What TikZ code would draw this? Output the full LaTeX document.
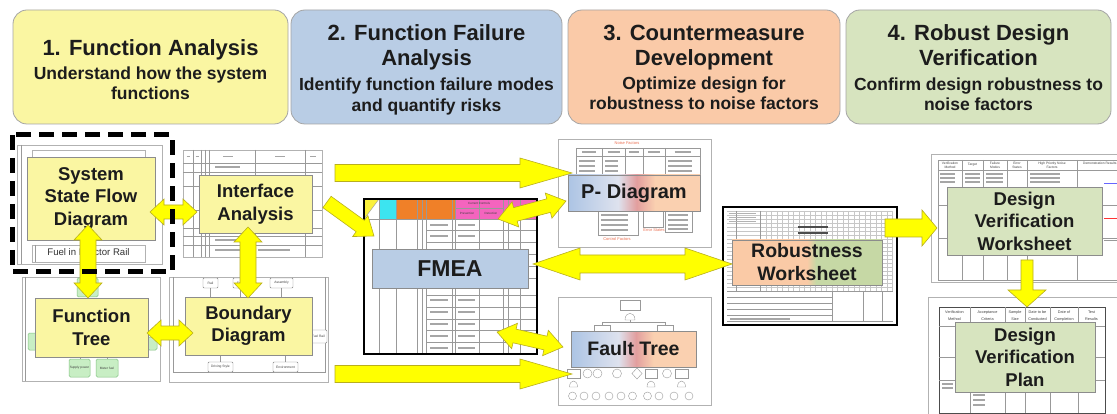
\documentclass[tikz,border=0pt]{standalone}
\usepackage{fontspec}
\setmainfont{Liberation Sans}
\usetikzlibrary{calc}
\definecolor{hyellow}{RGB}{250,246,162}
\definecolor{hblue}{RGB}{185,205,229}
\definecolor{hpeach}{RGB}{250,202,168}
\definecolor{hgreen}{RGB}{215,228,191}
\definecolor{hedge}{RGB}{165,165,165}
\definecolor{ink}{RGB}{28,28,28}
\definecolor{ayellow}{RGB}{255,255,0}
\definecolor{aedge}{RGB}{185,175,30}
\definecolor{pdblue}{RGB}{172,196,228}
\definecolor{pdlight}{RGB}{222,226,238}
\definecolor{pdpink}{RGB}{226,158,158}
\definecolor{pdpeach}{RGB}{250,208,176}
\definecolor{rwpeach}{RGB}{250,202,166}
\definecolor{rwgreen}{RGB}{198,216,165}
\definecolor{fmyel}{RGB}{250,240,60}
\definecolor{fmcyan}{RGB}{60,228,240}
\definecolor{fmorange}{RGB}{240,128,40}
\definecolor{fmpink}{RGB}{244,100,190}
\definecolor{gbfill}{RGB}{200,238,196}
\definecolor{gbedge}{RGB}{130,195,130}
\definecolor{nred}{RGB}{235,110,80}
\pgfdeclarehorizontalshading{pdshade}{100bp}{color(0bp)=(pdblue); color(25bp)=(pdblue); color(44bp)=(pdlight); color(51bp)=(pdpink); color(58bp)=(pdpeach); color(100bp)=(pdpeach)}
\pgfdeclarehorizontalshading{rwshade}{100bp}{color(0bp)=(rwpeach); color(50bp)=(rwpeach); color(53bp)=(rwgreen); color(100bp)=(rwgreen)}
% single block arrow: prefix, A, B, shaft half width, head half width, head length
\newcommand{\blkarrow}[6]{%
  \coordinate (#1c) at ($(#3)!#6pt!(#2)$);
  \filldraw[barrow] ($(#2)!#4pt!90:(#3)$) -- ($(#1c)!#4pt!90:(#3)$) -- ($(#1c)!#5pt!90:(#3)$) -- (#3)
    -- ($(#1c)!#5pt!-90:(#3)$) -- ($(#1c)!#4pt!-90:(#3)$) -- ($(#2)!#4pt!-90:(#3)$) -- cycle;}
% double block arrow
\newcommand{\dblarrow}[6]{%
  \coordinate (#1p) at ($(#2)!#6pt!(#3)$);
  \coordinate (#1q) at ($(#3)!#6pt!(#2)$);
  \filldraw[barrow] (#2) -- ($(#1p)!#5pt!90:(#3)$) -- ($(#1p)!#4pt!90:(#3)$) -- ($(#1q)!#4pt!90:(#3)$) -- ($(#1q)!#5pt!90:(#3)$) -- (#3)
    -- ($(#1q)!#5pt!-90:(#3)$) -- ($(#1q)!#4pt!-90:(#3)$) -- ($(#1p)!#4pt!-90:(#3)$) -- ($(#1p)!#5pt!-90:(#3)$) -- cycle;}
\begin{document}
\begin{tikzpicture}[x=1pt,y=-1pt,
  hbox/.style={draw=hedge, rounded corners=14pt, line width=0.8pt, inner sep=0pt},
  htitle/.style={font=\bfseries\fontsize{22}{25}\selectfont, text=ink, align=center, inner sep=0pt},
  hsub/.style={font=\bfseries\fontsize{17.5}{20.5}\selectfont, text=ink, align=center, inner sep=0pt},
  lbl/.style={draw=black!45, line width=0.6pt, inner sep=0pt, align=center, text=ink,
    font=\bfseries\fontsize{18.5}{22.5}\selectfont},
  thumb/.style={draw=black!30, fill=white, line width=0.8pt},
  grid/.style={draw=black!40, line width=0.4pt},
  lgrid/.style={draw=black!22, line width=0.4pt},
  strk/.style={draw=black!35, line width=1.1pt},
  tinyt/.style={font=\fontsize{3.6}{5}\selectfont, inner sep=0pt, text=black!75, align=center},
  sbox/.style={draw=black!50, fill=white, rounded corners=1pt, line width=0.4pt},
  gbox/.style={draw=gbedge, fill=gbfill, rounded corners=1.5pt, line width=0.5pt},
  barrow/.style={fill=ayellow, draw=aedge, line width=0.6pt, line join=miter}]
\useasboundingbox[fill=white] (0,0) rectangle (1117,414);

% ---------------- header boxes ----------------
\node[hbox, fill=hyellow, minimum width=275pt, minimum height=114pt] (hb1) at (150.5,67) {};
\node[hbox, fill=hblue, minimum width=271pt, minimum height=114pt] (hb2) at (426.5,67) {};
\node[hbox, fill=hpeach, minimum width=272pt, minimum height=114pt] (hb3) at (704,67) {};
\node[hbox, fill=hgreen, minimum width=265pt, minimum height=114pt] (hb4) at (978.5,67) {};
\node[htitle] (ht1) at (150.5,50.2) {1. Function Analysis};
\node[hsub] (hs1) at (150.5,83.2) {Understand how the system\\functions};
\node[htitle] (ht2) at (426.5,47.7) {2. Function Failure\\Analysis};
\node[hsub] (hs2) at (426.5,96.3) {Identify function failure modes\\and quantify risks};
\node[htitle] (ht3) at (704,47.7) {3. Countermeasure\\Development};
\node[hsub] (hs3) at (704,93.2) {Optimize design for\\robustness to noise factors};
\node[htitle] (ht4) at (978.5,45.4) {4. Robust Design\\Verification};
\node[hsub] (hs4) at (978.5,94) {Confirm design robustness to\\noise factors};

% ---------------- thumbnails ----------------
% system state flow
\draw[thumb] (17,145) rectangle (162,264);
\draw[grid] (21,145) -- (21,264);
\draw[thumb] (32,150) rectangle (145,163);
\draw[thumb] (32,245) rectangle (145,262);
\draw[grid] (35,245) -- (35,262);
\node[font=\fontsize{9.6}{11}\selectfont, text=black!80, inner sep=0pt] (fir) at (88.5,253.5) {Fuel in Injector Rail};

% interface analysis
\draw[thumb] (183,150) rectangle (322,257);
\foreach \x in {193,201,205,209,255,305} \draw[grid] (\x,150) -- (\x,257);
\foreach \y in {163,172,186,210,228,236,245} \draw[grid] (183,\y) -- (322,\y);
\foreach \x/\l in {188/3,197/3,228/10,280/10,313/6} \draw[strk] (\x-\l/2,156.5) -- (\x+\l/2,156.5);
\foreach \y in {167,240,250} \draw[strk] (215,\y) -- (240,\y);
\draw[strk] (258,250) -- (290,250);

% function tree
\draw[thumb] (22,277) rectangle (160,381);
\draw[grid] (25,277) -- (25,381);
\draw[gbox] (77,278) rectangle (98,297);
\draw[gbox] (28,333) rectangle (37,350);
\draw[gbox] (148,337) rectangle (157,350);
\draw[grid] (80,355) -- (80,359) (107,355) -- (107,359);
\draw[gbox] (69,359) rectangle (90,377);
\draw[gbox] (96,359) rectangle (118,377);
\node[tinyt, font=\fontsize{3.2}{4}\selectfont] (sp) at (79.5,368) {Supply power};
\node[tinyt, font=\fontsize{3.2}{4}\selectfont] (mf) at (107,368) {Meter fuel};

% boundary diagram
\draw[thumb] (169,277) rectangle (328,382);
\draw[grid] (173,277) -- (173,372) -- (325,372) -- (325,277);
\draw[grid] (210.5,288) -- (210.5,297) (240,288) -- (240,297) (281.5,288) -- (281.5,297);
\draw[grid] (220.5,355) -- (220.5,362) (285.5,355) -- (285.5,362);
\draw[sbox] (203,278) rectangle (218,288);
\draw[sbox] (233,278) rectangle (247,288);
\draw[sbox] (270,278) rectangle (293,288);
\draw[sbox] (300,330) rectangle (327,343);
\draw[sbox] (208,362) rectangle (233,372);
\draw[sbox] (273,362) rectangle (298,372);
\node[tinyt, font=\fontsize{3.3}{4}\selectfont] (b1) at (210.5,283) {Rail};
\node[tinyt, font=\fontsize{3.3}{4}\selectfont] (b2) at (240,283) {Fuel};
\node[tinyt, font=\fontsize{3.3}{4}\selectfont] (b3) at (281.5,283) {Assembly};
\node[tinyt, font=\fontsize{3.3}{4}\selectfont, anchor=east] (b4) at (325,336.5) {Fuel Rail};
\node[tinyt, font=\fontsize{3.3}{4}\selectfont] (b5) at (220.5,367) {Driving Style};
\node[tinyt, font=\fontsize{3.3}{4}\selectfont] (b6) at (285.5,367) {Environment};

% FMEA sheet
\fill[white] (364,199) rectangle (537,354);
\fill[fmyel] (364,199) -- (379,199) -- (364,219) -- cycle;
\draw[grid] (379,199) -- (364,219);
\fill[fmcyan] (379,199) rectangle (396,219);
\fill[fmorange] (396,199) rectangle (455,219);
\fill[fmpink] (455,199) rectangle (537,219);
\foreach \x in {379,396,417,422,426,452,455,479,503,508,520} \draw[grid] (\x,199) -- (\x,354);
\draw[grid] (364,219) -- (537,219) (455,208) -- (503,208);
\foreach \y in {230,242,254,266,278,295,307,319,330,342} \draw[grid] (426,\y) -- (537,\y);
\node[tinyt, font=\fontsize{3}{4}\selectfont] (cc) at (479,203.5) {Current Controls};
\node[tinyt, font=\fontsize{3}{4}\selectfont] (pv) at (467,213.5) {Prevention};
\node[tinyt, font=\fontsize{3}{4}\selectfont] (dt) at (491,213.5) {Detection};
\foreach \y in {225,236,300,312,324,336,348} {\draw[strk] (430,\y) -- (448,\y); \draw[strk] (458,\y) -- (475,\y);}
\draw[black, line width=1.5pt] (364,199) rectangle (537,354);

% P-diagram
\draw[thumb] (558,139) rectangle (711,247);
\node[tinyt, text=nred, font=\fontsize{4}{5}\selectfont] (nf) at (627,143.5) {Noise Factors};
\draw[grid] (576,148) rectangle (700,177);
\draw[grid] (576,156) -- (700,156);
\foreach \x in {602,625,643,665} \draw[grid] (\x,148) -- (\x,177);
\foreach \x/\l in {589/14,613.5/12,634/10,654/12,682.5/16} \draw[strk] (\x-\l/2,152) -- (\x+\l/2,152);
\foreach \y in {161,166,171} {\draw[strk] (579,\y) -- (595,\y); \draw[strk] (605,\y) -- (618,\y); \draw[strk] (668,\y) -- (692,\y);}
\draw[grid] (598,211) rectangle (638,235);
\draw[grid] (643,211) rectangle (663,227);
\draw[grid] (665,211) rectangle (692,232);
\foreach \y in {215,220,225,230} \draw[strk] (601,\y) -- (628,\y);
\foreach \y in {215,220,225,229} \draw[strk] (668,\y) -- (688,\y);
\node[tinyt, text=nred, font=\fontsize{4}{5}\selectfont] (cf) at (617,239.5) {Control Factors};
\node[tinyt, text=nred, font=\fontsize{4}{5}\selectfont] (es) at (654,230.5) {Error States};

% fault tree
\draw[thumb] (558,297) rectangle (711,405);
\draw[grid] (620,300) rectangle (640,310);
\draw[grid] (625,320) .. controls (625,311) and (635,311) .. (635,320) -- cycle;
\draw[grid] (630,320) -- (630,322) (602,322) -- (665,322) (602,322) -- (602,325) (665,322) -- (665,325);
\draw[grid] (594,325) rectangle (610,331);
\draw[grid] (657,325) rectangle (673,331);
\draw[grid] (567,369) rectangle (580,378);
\draw[grid] (645,369) rectangle (657,378);
\draw[grid] (675,369) rectangle (688,378);
\foreach \x in {587.5,597.5,617,667} \draw[grid] (\x,373.5) circle[radius=4.5pt];
\draw[grid] (637,368) -- (642,373.5) -- (637,379) -- (632,373.5) -- cycle;
\foreach \x in {573.5,651,681.5} \draw[grid] (\x-4,387) .. controls (\x-4,379) and (\x+4,379) .. (\x+4,387) -- cycle;
\foreach \x in {572.5,584,596,609,621,632.5,647.5,659,674,689} \draw[grid] (\x,396) circle[radius=4pt];

% robustness worksheet
\fill[white] (723,207) rectangle (897,325);
\foreach \y in {211,215,...,291} \draw[lgrid] (727,\y) -- (893,\y);
\foreach \x in {766,771.5,...,893} \draw[lgrid] (\x,211) -- (\x,291);
\draw[grid] (736,211) -- (736,291) (760,211) -- (760,291);
\foreach \y in {213,217,221} \draw[strk, draw=black!30, line width=0.9pt] (729,\y) -- (756,\y);
\draw[black!70, line width=1.3pt] (798,227) -- (828,227) (798,233) -- (828,233);
\foreach \y in {297,303,309,315} \draw[grid] (727,\y) -- (832,\y);
\draw[grid] (727,291) -- (893,291) (832,291) -- (832,321) (863,291) -- (863,321) (882,291) -- (882,321);
\draw[grid] (727,321) -- (893,321);
\draw[strk] (730,319) -- (790,319);
\draw[black, line width=1.5pt] (723,207) rectangle (897,325);

% design verification worksheet
\draw[thumb] (931,154) rectangle (1125,282);
\draw[grid] (938,160) rectangle (1125,280);
\draw[grid] (938,170) -- (1125,170) (938,205) -- (1125,205) (938,238) -- (1125,238);
\foreach \x in {962,983,1007,1027,1077} \draw[grid] (\x,160) -- (\x,280);
\node[tinyt, font=\fontsize{3.3}{4.2}\selectfont] (w1) at (950,165) {Verification\\Method};
\node[tinyt, font=\fontsize{3.3}{4.2}\selectfont] (w2) at (972.5,165) {Target};
\node[tinyt, font=\fontsize{3.3}{4.2}\selectfont] (w3) at (995,165) {Failure\\Modes};
\node[tinyt, font=\fontsize{3.3}{4.2}\selectfont] (w4) at (1017,165) {Error\\States};
\node[tinyt, font=\fontsize{3.3}{4.2}\selectfont] (w5) at (1052,165) {High Priority Noise\\Factors};
\node[tinyt, font=\fontsize{3.3}{4.2}\selectfont, anchor=west] (w6) at (1083,163.5) {Demonstration Results};
\foreach \y in {174,178,182} {\draw[strk] (940,\y) -- (955,\y); \draw[strk] (965,\y) -- (980,\y); \draw[strk] (986,\y) -- (1003,\y); \draw[strk] (1030,\y) -- (1060,\y);}
\draw[blue!60, line width=0.8pt] (1104,183) -- (1117,183);
\draw[red!80, line width=0.8pt] (1104,218) -- (1117,218);
\draw[grid] (1104,240) -- (1117,240);

% design verification plan
\draw[thumb] (928,297) rectangle (1125,420);
\draw[black!70, line width=0.9pt] (939,307) rectangle (1105,413);
\draw[grid] (939,326) -- (1105,326) (939,357) -- (1105,357) (939,380) -- (1105,380);
\foreach \x in {970,1005,1025,1050,1078} \draw[grid] (\x,307) -- (\x,413);
\node[tinyt, font=\fontsize{3.8}{7}\selectfont] (p1) at (954.5,316) {Verification\\Method};
\node[tinyt, font=\fontsize{3.8}{7}\selectfont] (p2) at (987.5,316) {Acceptance\\Criteria};
\node[tinyt, font=\fontsize{3.8}{7}\selectfont] (p3) at (1015,316) {Sample\\Size};
\node[tinyt, font=\fontsize{3.8}{7}\selectfont] (p4) at (1037.5,316) {Date to be\\Conducted};
\node[tinyt, font=\fontsize{3.8}{7}\selectfont] (p5) at (1064,316) {Date of\\Completion};
\node[tinyt, font=\fontsize{3.8}{7}\selectfont] (p6) at (1091.5,316) {Test\\Results};
\foreach \y in {384,388} \draw[strk] (942,\y) -- (953,\y);
\foreach \y in {395,400,405} \draw[strk] (973,\y) -- (985,\y);

% ---------------- label boxes ----------------
\node[lbl, fill=hyellow, minimum width=128pt, minimum height=83pt] (ssfd) at (91,198.5) {System\\State Flow\\Diagram};
\node[lbl, fill=hyellow, minimum width=113pt, minimum height=58pt] (ia) at (255.5,204) {Interface\\Analysis};
\node[lbl, fill=hyellow, minimum width=113pt, minimum height=59pt] (ftr) at (91.5,327.5) {Function\\Tree};
\node[lbl, fill=hyellow, minimum width=127pt, minimum height=58pt] (bd) at (248.5,326) {Boundary\\Diagram};
\node[lbl, fill=hblue, minimum width=156pt, minimum height=39pt, font=\bfseries\fontsize{23}{26}\selectfont] (fmea) at (450,268.5) {FMEA};
\node[lbl, shading=pdshade, minimum width=132pt, minimum height=36pt, font=\bfseries\fontsize{20}{24}\selectfont] (pd) at (634,193) {P- Diagram};
\node[lbl, shading=pdshade, minimum width=125pt, minimum height=36pt, font=\bfseries\fontsize{19.5}{24}\selectfont] (fault) at (633.5,349) {Fault Tree};
\node[lbl, shading=rwshade, minimum width=150pt, minimum height=45pt, font=\bfseries\fontsize{19.5}{23}\selectfont] (rw) at (807,262.5) {Robustness\\Worksheet};
\node[lbl, fill=hgreen, minimum width=155pt, minimum height=68pt] (dvw) at (1024.5,221) {Design\\Verification\\Worksheet};
\node[lbl, fill=hgreen, minimum width=140pt, minimum height=70pt] (dvp) at (1025,357) {Design\\Verification\\Plan};

% ---------------- block arrows ----------------
\coordinate (a1s) at (150,212);   \coordinate (a1e) at (197,212);
\coordinate (a2s) at (88,225);    \coordinate (a2e) at (88,298);
\coordinate (a3s) at (248,227);   \coordinate (a3e) at (248,298);
\coordinate (a4s) at (147,333);   \coordinate (a4e) at (193,333);
\coordinate (a5s) at (335,173);   \coordinate (a5e) at (572,173);
\coordinate (a6s) at (335,374);   \coordinate (a6e) at (572,374);
\coordinate (a7s) at (327,202);   \coordinate (a7e) at (374,236);
\coordinate (a8s) at (498,219);   \coordinate (a8e) at (566,201);
\coordinate (a9s) at (497,332);   \coordinate (a9e) at (563,347);
\coordinate (a10s) at (533,264);  \coordinate (a10e) at (732,264);
\coordinate (a11s) at (885,228);  \coordinate (a11e) at (937,228);
\coordinate (a12s) at (1027,260); \coordinate (a12e) at (1027,307);
\dblarrow{ar1}{a1s}{a1e}{7}{13}{14}
\dblarrow{ar2}{a2s}{a2e}{8}{14}{15}
\dblarrow{ar3}{a3s}{a3e}{8}{14}{15}
\dblarrow{ar4}{a4s}{a4e}{7}{13}{14}
\blkarrow{ar5}{a5s}{a5e}{8.5}{15}{52}
\blkarrow{ar6}{a6s}{a6e}{8.5}{15}{52}
\blkarrow{ar7}{a7s}{a7e}{7}{13}{17}
\dblarrow{ar8}{a8s}{a8e}{7}{13}{18}
\dblarrow{ar9}{a9s}{a9e}{7}{13}{18}
\dblarrow{ar10}{a10s}{a10e}{9}{16}{47}
\blkarrow{ar11}{a11s}{a11e}{9}{18}{15}
\blkarrow{ar12}{a12s}{a12e}{6}{19}{17}

% focus frame
\draw[black, line width=5pt, dash pattern=on 15pt off 8pt] (12,135) rectangle (172,272);
\end{tikzpicture}
\end{document}
